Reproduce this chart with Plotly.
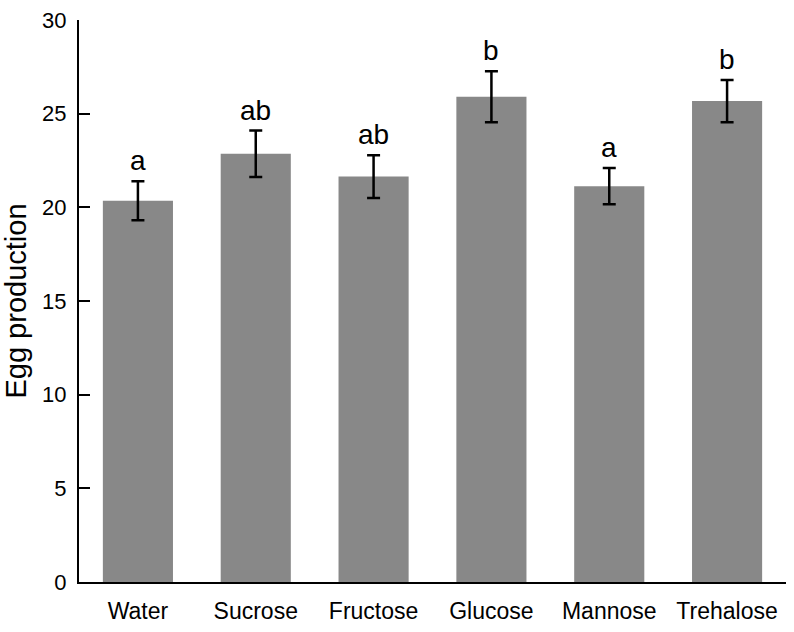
import plotly.graph_objects as go

categories = ["Water", "Sucrose", "Fructose", "Glucose", "Mannose", "Trehalose"]
means = [20.35, 22.86, 21.64, 25.90, 21.13, 25.67]
errors = [1.04, 1.24, 1.14, 1.36, 0.97, 1.13]
letters = ["a", "ab", "ab", "b", "a", "b"]

FONT = "Liberation Sans, Arial, sans-serif"

fig = go.Figure()
fig.add_trace(go.Bar(
    x=categories, y=means,
    marker=dict(color="#888888", line=dict(width=0)),
    error_y=dict(type="data", array=errors, visible=True,
                 color="black", thickness=2.5, width=6.5),
))

for c, m, e, t in zip(categories, means, errors, letters):
    fig.add_annotation(x=c, y=m + e, text=t, showarrow=False,
                       yanchor="bottom", xanchor="center", yshift=4, borderpad=0,
                       font=dict(family=FONT, size=28, color="black"))

fig.update_layout(
    width=794, height=632,
    margin=dict(l=79, r=8, t=19, b=45),
    plot_bgcolor="white", paper_bgcolor="white",
    bargap=0.405,
    showlegend=False,
    font=dict(family=FONT, color="black"),
    xaxis=dict(showline=True, linecolor="black", linewidth=2,
               ticks="", showgrid=False, zeroline=False,
               tickfont=dict(size=23, family=FONT), ticklabelstandoff=7),
    yaxis=dict(range=[0, 30], tickvals=[0, 5, 10, 15, 20, 25, 30],
               showline=True, linecolor="black", linewidth=2,
               ticks="inside", ticklen=11, tickwidth=2, tickcolor="black",
               showgrid=False, zeroline=False,
               tickfont=dict(size=22, family=FONT), ticklabelstandoff=6,
               title=dict(text="Egg production", font=dict(size=29, family=FONT), standoff=10)),
)

fig.write_html("out.html")
